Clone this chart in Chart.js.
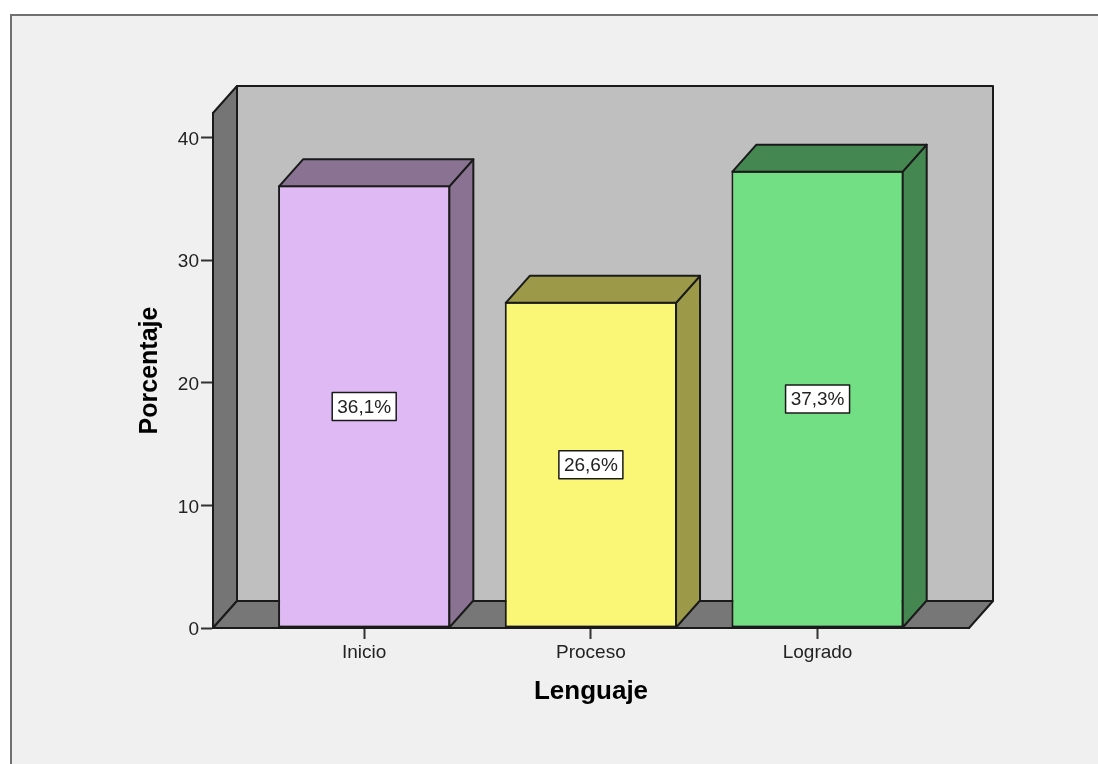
<!DOCTYPE html>
<html>
<head>
<meta charset="utf-8">
<title>Lenguaje</title>
<script src="https://cdn.jsdelivr.net/npm/chart.js@4"></script>
<style>
  html, body { margin: 0; padding: 0; background: #fff; overflow: hidden; }
  canvas { display: block; }
</style>
</head>
<body>
<canvas id="chart" width="1098" height="764"></canvas>
<script>
// Values
const categories = ['Inicio', 'Proceso', 'Logrado'];
const porcentajes = [36.1, 26.6, 37.3];
const etiquetas = ['36,1%', '26,6%', '37,3%'];
const frontColors = ['#dfb9f4', '#fbf776', '#72df84'];
const sideColors = ['#8a7392', '#9c9a49', '#458751'];

const yTicksMax = 42;
const depthX = 24;
const depthY = 27;
const lineColor = '#1a1a1a';

function face(ctx, points, fill) {
    ctx.beginPath();
    points.forEach((p, i) => i ? ctx.lineTo(p[0], p[1]) : ctx.moveTo(p[0], p[1]));
    ctx.closePath();
    ctx.fillStyle = fill;
    ctx.fill();
    ctx.lineWidth = 2;
    ctx.strokeStyle = lineColor;
    ctx.lineJoin = 'round';
    ctx.stroke();
}

// Panel and the box behind the bars
const boxPlugin = {
    id: 'box',
    beforeDraw(chart) {
        const ctx = chart.ctx;
        const { left, right, top, bottom } = chart.chartArea;
        ctx.save();
        ctx.fillStyle = '#ffffff';
        ctx.fillRect(0, 0, chart.width, chart.height);
        ctx.fillStyle = '#f0f0f0';
        ctx.fillRect(10, 15, chart.width - 10, chart.height - 15);
        ctx.fillStyle = '#707070';
        ctx.fillRect(10, 14, chart.width - 10, 2);
        ctx.fillRect(10, 14, 2, chart.height - 14);

        const backTop = top - depthY;
        const backBottom = bottom - depthY;
        // back wall
        face(ctx, [[left + depthX, backTop], [right + depthX, backTop], [right + depthX, backBottom], [left + depthX, backBottom]], '#bfbfbf');
        // left wall
        face(ctx, [[left, top], [left + depthX, backTop], [left + depthX, backBottom], [left, bottom]], '#757575');
        // floor
        face(ctx, [[left, bottom], [left + depthX, backBottom], [right + depthX, backBottom], [right, bottom]], '#777777');
        ctx.restore();
    }
};

// Side and top faces of the bars, and the value boxes
const barsPlugin = {
    id: 'bars3d',
    afterDatasetsDraw(chart) {
        const ctx = chart.ctx;
        const bars = chart.getDatasetMeta(0).data;
        ctx.save();
        bars.forEach((bar, i) => {
            const l = bar.x - bar.width / 2 + 1;
            const r = bar.x + bar.width / 2 - 1;
            const t = bar.y + 1;
            face(ctx, [[r, t], [r + depthX, t - depthY], [r + depthX, bar.base - depthY], [r, bar.base]], sideColors[i]);
            face(ctx, [[l, t], [l + depthX, t - depthY], [r + depthX, t - depthY], [r, t]], sideColors[i]);

            const cy = (bar.y + bar.base) / 2;
            ctx.fillStyle = '#ffffff';
            ctx.fillRect(bar.x - 32, cy - 14, 64, 28);
            ctx.lineWidth = 1.5;
            ctx.strokeStyle = lineColor;
            ctx.strokeRect(bar.x - 32, cy - 14, 64, 28);
            ctx.fillStyle = '#222222';
            ctx.font = '19px "Liberation Sans", sans-serif';
            ctx.textAlign = 'center';
            ctx.textBaseline = 'middle';
            ctx.fillText(etiquetas[i], bar.x, cy + 1);
        });
        ctx.restore();
    }
};

new Chart(document.getElementById('chart'), {
    type: 'bar',
    data: {
        datasets: [{
            data: porcentajes.map((v, i) => ({ x: i, y: v })),
            backgroundColor: frontColors,
            borderColor: lineColor,
            borderWidth: 2,
            borderSkipped: false,
            categoryPercentage: 0.76,
            barPercentage: 1
        }]
    },
    options: {
        responsive: false,
        animation: false,
        layout: { padding: { left: 0, top: 113, right: 129, bottom: 0 } },
        plugins: { legend: { display: false }, tooltip: { enabled: false } },
        scales: {
            x: {
                type: 'linear',
                offset: false,
                min: -0.667,
                max: 2.668,
                afterBuildTicks(axis) { axis.ticks = categories.map((c, i) => ({ value: i })); },
                afterFit(axis) { axis.height = 136; },
                grid: { offset: false, drawOnChartArea: false, tickLength: 11, tickColor: '#333333', tickWidth: 2 },
                border: { color: lineColor, width: 2 },
                ticks: {
                    autoSkip: false,
                    maxRotation: 0,
                    padding: 2,
                    color: '#222222',
                    font: { family: '"Liberation Sans", sans-serif', size: 19 },
                    callback: v => categories[v]
                },
                title: {
                    display: true,
                    text: 'Lenguaje',
                    color: '#000000',
                    font: { family: '"Liberation Sans", sans-serif', size: 26, weight: 'bold' },
                    padding: { top: 0, bottom: 57 }
                }
            },
            y: {
                min: 0,
                max: yTicksMax,
                afterFit(axis) { axis.width = 213; },
                grid: { drawOnChartArea: false, tickLength: 12, tickColor: '#333333', tickWidth: 2 },
                border: { color: lineColor, width: 2 },
                ticks: {
                    stepSize: 10,
                    includeBounds: false,
                    padding: 2,
                    labelOffset: 2,
                    color: '#222222',
                    font: { family: '"Liberation Sans", sans-serif', size: 19 }
                },
                title: {
                    display: true,
                    text: 'Porcentaje',
                    color: '#000000',
                    font: { family: '"Liberation Sans", sans-serif', size: 25, weight: 'bold' },
                    padding: { top: 135, bottom: 0 }
                }
            }
        }
    },
    plugins: [boxPlugin, barsPlugin]
});
</script>
</body>
</html>
